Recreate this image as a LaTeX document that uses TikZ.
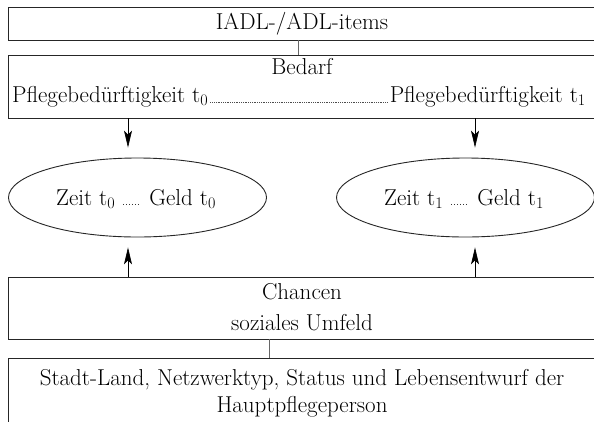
\documentclass[tikz,border=0pt]{standalone}
\usepackage{fontspec}
\usetikzlibrary{shapes.geometric,arrows.meta,calc}
\begin{document}
\begin{tikzpicture}[x=1pt,y=-1pt,
  every node/.style={font=\fontsize{23}{30}\selectfont},
  box/.style={draw=black!85,line width=0.9pt,rectangle,inner sep=0pt,minimum width=588pt},
  oval/.style={draw=black!85,line width=0.9pt,ellipse,inner sep=0pt,minimum width=258pt,minimum height=79pt},
  txt/.style={inner sep=0pt,align=center},
  link/.style={draw=black!60,line width=0.6pt},
  arr/.style={draw=black,line width=0.6pt,-{Stealth[length=17pt,width=8pt,inset=4pt]}},
  leader/.style={draw=black!70,line width=0.6pt,dash pattern=on 0.6pt off 1.2pt}
]
\useasboundingbox (0,0) rectangle (594,421);
\clip (0,0) rectangle (594,421);
\fill[white] (0,0) rectangle (594,421);

% boxes
\node[box,minimum height=33pt] (items) at (302,23.5) {};
\node[txt,anchor=base] (itemstxt) at (302,29) {IADL-/ADL-items};
\node[box,minimum height=63pt] (bedarf) at (302,86.5) {};
\node[txt,anchor=base] (bedtxt) at (302,74) {Bedarf};
\node[txt,anchor=base west] (p0) at (12,102) {Pflegebedürftigkeit t\textsubscript{0}};
\node[txt,anchor=base east] (p1) at (586,102) {Pflegebedürftigkeit t\textsubscript{1}};
\draw[leader] ($(p0.base east)+(2,0)$) -- ($(p1.base west)+(-2,0)$);

\node[oval] (e0) at (137.5,197.5) {};
\node[txt,anchor=base] (e0t) at (136,205) {Zeit t\textsubscript{0} {\fontsize{11}{11}\selectfont......} Geld t\textsubscript{0}};
\node[oval] (e1) at (465.5,197.5) {};
\node[txt,anchor=base] (e1t) at (464,205) {Zeit t\textsubscript{1} {\fontsize{11}{11}\selectfont......} Geld t\textsubscript{1}};

\node[box,minimum height=62pt] (chancen) at (302,308) {};
\node[txt,anchor=base] (ch1) at (302,299) {Chancen};
\node[txt,anchor=base] (ch2) at (302,330) {soziales Umfeld};

\node[box,minimum height=84pt] (stadt) at (302,400) {};
\node[txt,anchor=base] (st1) at (302,385) {Stadt-Land, Netzwerktyp, Status und Lebensentwurf der};
\node[txt,anchor=base] (st2) at (302,412) {Hauptpflegeperson};

% connectors
\coordinate (xa) at (128,0);
\coordinate (xb) at (475,0);
\coordinate (xc) at (298,0);
\coordinate (xd) at (269,0);
\draw[link] (items.south -| xc) -- (bedarf.north -| xc);
\draw[link] (chancen.south -| xd) -- (stadt.north -| xd);
\draw[arr,shorten >=10pt] (bedarf.south -| xa) -- (e0.north -| xa);
\draw[arr,shorten >=10pt] (bedarf.south -| xb) -- (e1.north -| xb);
\draw[arr,shorten >=10pt] (chancen.north -| xa) -- (e0.south -| xa);
\draw[arr,shorten >=10pt] (chancen.north -| xb) -- (e1.south -| xb);
\end{tikzpicture}
\end{document}
